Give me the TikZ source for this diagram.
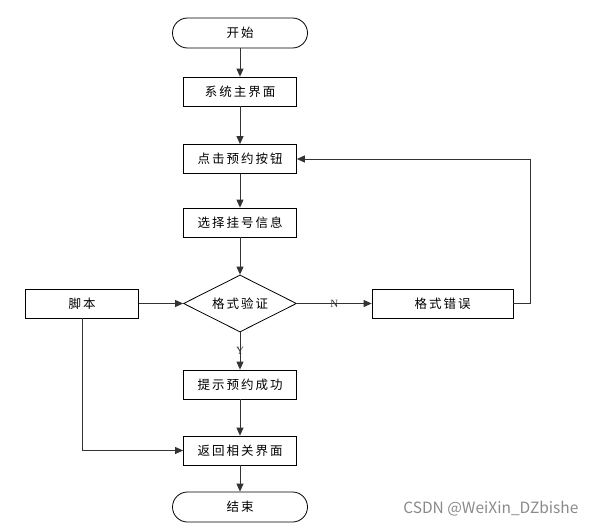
\documentclass[tikz,border=0pt]{standalone}
\usepackage{fontspec}
\usepackage{tikz}
\usetikzlibrary{arrows.meta,positioning,shapes.geometric}
\newfontfamily\cjk[LetterSpace=16]{Noto Sans CJK SC}
\newfontfamily\wmfont{Noto Sans CJK SC}
\setmainfont{Liberation Serif}
\definecolor{linegray}{HTML}{333333}
\definecolor{markgray}{HTML}{8A8A8A}

\begin{document}
\begin{tikzpicture}[x=1pt, y=-1pt,
  blk/.style={draw=black, fill=white, align=center, font=\cjk\fontsize{12.5}{14}\selectfont,
              minimum height=29pt, minimum width=113pt, inner sep=0pt, line width=0.8pt},
  term/.style={blk, minimum width=135pt, minimum height=30pt, rounded corners=15pt},
  judge/.style={blk, diamond, aspect=2, minimum width=113pt, minimum height=57pt},
  arr/.style={-{Triangle[length=8pt, width=7pt]}, linegray, line width=0.9pt},
  lbl/.style={font=\fontsize{11}{12}\selectfont, inner sep=1pt}]
  \useasboundingbox (0,0) rectangle (591,527);
  % main column
  \node[term] (start) at (240,33) {开始};
  \node[blk] (home) at (240,91.5) {系统主界面};
  \node[blk] (click) at (240,159) {点击预约按钮};
  \node[blk] (pick) at (240,222.5) {选择挂号信息};
  \node[judge] (check) at (240,303.5) {格式验证};
  \node[blk] (ok) at (240,384.5) {提示预约成功};
  \node[blk] (back) at (240,450.5) {返回相关界面};
  \node[term] (stop) at (240,507) {结束};
  % side boxes
  \node[blk] (script) at (82,303.5) {脚本};
  \node[blk, minimum width=141pt] (err) at (442.5,303.5) {格式错误};
  \node[font=\wmfont\fontsize{15.5}{17}\selectfont, text=markgray, anchor=east] (mark) at (582,509) {CSDN @WeiXin\_DZbishe};
  \draw[arr] (start) -- (home);
  \draw[arr] (home) -- (click);
  \draw[arr] (click) -- (pick);
  \draw[arr] (pick) -- (check);
  \draw[arr] (script) -- (check);
  \draw[arr] (check) -- node[lbl] {N} (err);
  \draw[arr] (check) -- node[lbl] {Y} (ok);
  \draw[arr] (ok) -- (back);
  \draw[arr] (back) -- (stop);
  \draw[arr] (err.east) -- ++(17,0) |- (click.east);
  \draw[arr] (script.south) |- (back.west);
\end{tikzpicture}
\end{document}
